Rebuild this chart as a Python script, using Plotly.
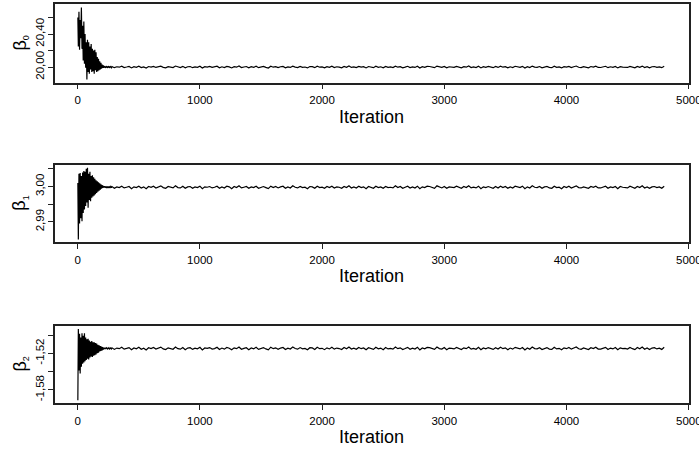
import plotly.graph_objects as go

# ---------------- data ----------------
iter_early = [1] + list(range(5, 280, 5))          # 56 points
iter_flat = list(range(280, 4801, 20))             # 227 points
iterations = iter_early + iter_flat

beta0_early = [20.60, 20.25, 20.67, 20.21, 20.57, 20.35, 20.72, 20.22, 20.50, 20.08,
               20.55, 20.04, 20.40, 19.99, 20.30, 19.85, 20.33, 19.94, 20.30, 19.92,
               20.25, 19.97, 20.28, 19.94, 20.22, 19.95, 20.20, 19.92, 20.21, 19.96,
               20.18, 19.94, 20.12, 19.95, 20.10, 19.96, 20.07, 19.97, 20.05, 19.98,
               20.03, 19.99, 20.02, 19.99, 20.01, 20.00, 19.99, 20.01, 20.00, 19.99,
               20.01, 20.00, 19.99, 20.01, 20.00, 19.99]
beta0_flat = [
    20.005, 19.992, 20.003, 19.998, 20.010, 19.994, 20.000, 20.007, 19.989, 20.004,
    19.997, 20.009, 19.993, 20.002, 19.988, 20.006, 19.999, 20.008, 19.995, 20.003,
    20.011, 19.996, 19.991, 20.005, 20.001, 19.993, 20.012, 19.998, 19.994, 20.008,
    19.990, 20.003, 20.006, 19.992, 20.002, 19.997, 20.009, 19.988, 20.004, 20.000,
    20.007, 19.995, 19.999, 20.010, 19.991, 20.003, 19.994, 20.008, 20.002, 19.989,
    20.005, 19.998, 20.012, 19.993, 20.000, 20.006, 19.990, 20.004, 19.997, 20.009,
    19.992, 20.001, 20.007, 19.996, 19.988, 20.010, 19.998, 20.005, 19.993, 20.003,
    20.008, 19.991, 20.002, 19.995, 20.011, 19.999, 19.994, 20.007, 19.997, 20.000,
    19.989, 20.006, 20.004, 19.992, 20.009, 19.998, 20.001, 19.990, 20.005, 19.996,
    20.010, 19.994, 20.003, 19.999, 19.991, 20.007, 19.997, 20.012, 19.995, 20.002,
    19.993, 20.008, 19.998, 20.004, 19.989, 20.006, 20.000, 19.992, 20.009, 19.997,
    20.003, 19.990, 20.007, 19.996, 20.001, 19.994, 20.011, 19.998, 20.005, 19.991,
    19.999, 20.009, 19.993, 20.002, 19.995, 20.010, 19.988, 20.004, 19.997, 20.008,
    20.006, 19.997, 19.992, 20.011, 19.999, 19.995, 20.007, 19.990, 20.003, 20.000,
    19.996, 20.008, 20.002, 19.991, 20.005, 19.998, 20.012, 19.994, 20.001, 19.993,
    20.009, 19.989, 20.004, 19.997, 20.007, 19.999, 19.992, 20.006, 19.995, 20.010,
    19.998, 20.005, 19.990, 20.003, 19.994, 20.009, 20.000, 19.996, 20.008, 19.988,
    20.004, 19.993, 20.011, 19.999, 19.997, 20.006, 19.991, 20.002, 20.007, 19.995,
    19.992, 20.010, 19.996, 20.001, 19.989, 20.005, 19.998, 20.008, 19.994, 20.003,
    20.012, 19.997, 19.993, 20.004, 20.000, 19.991, 20.006, 19.999, 20.010, 19.995,
    19.994, 20.002, 20.009, 19.992, 20.003, 19.996, 20.007, 19.989, 20.005, 19.999,
    20.001, 19.995, 20.008, 19.998, 19.990, 20.007, 19.997, 20.011, 19.993, 20.004,
    19.991, 20.003, 20.006, 19.996, 20.002, 19.992, 20.010]

beta1_early = [3.0010, 2.9850, 3.0036, 2.9895, 3.0038, 2.9910, 3.0030, 2.9902, 3.0040, 2.9925,
               3.0044, 2.9935, 3.0042, 2.9945, 3.0050, 2.9955, 3.0053, 2.9940, 3.0036, 2.9962,
               3.0042, 2.9958, 3.0030, 2.9968, 3.0032, 2.9972, 3.0026, 2.9975, 3.0022, 2.9978,
               3.0018, 2.9982, 3.0015, 2.9985, 3.0012, 2.9988, 3.0009, 2.9991, 3.0006, 2.9994,
               3.0004, 2.9996, 3.0002, 2.9997, 3.0001, 2.9997, 3.0000, 2.9996, 2.9999, 2.9997,
               3.0000, 2.9996, 2.9999, 2.9997, 3.0000, 2.9997]
beta1_flat = [
    3.0000, 2.9995, 2.9999, 2.9997, 3.0001, 2.9996, 2.9998, 3.0000, 2.9994, 2.9999,
    2.9997, 3.0001, 2.9996, 2.9999, 2.9994, 3.0000, 2.9998, 3.0001, 2.9996, 2.9999,
    3.0002, 2.9997, 2.9995, 3.0000, 2.9998, 2.9996, 3.0002, 2.9997, 2.9996, 3.0001,
    2.9995, 2.9999, 3.0000, 2.9995, 2.9999, 2.9997, 3.0001, 2.9994, 2.9999, 2.9998,
    3.0000, 2.9996, 2.9998, 3.0001, 2.9995, 2.9999, 2.9996, 3.0001, 2.9999, 2.9994,
    3.0000, 2.9997, 3.0002, 2.9996, 2.9998, 3.0000, 2.9995, 2.9999, 2.9997, 3.0001,
    2.9995, 2.9998, 3.0000, 2.9997, 2.9994, 3.0001, 2.9997, 3.0000, 2.9996, 2.9999,
    3.0001, 2.9995, 2.9999, 2.9996, 3.0002, 2.9998, 2.9996, 3.0000, 2.9997, 2.9998,
    2.9994, 3.0000, 2.9999, 2.9995, 3.0001, 2.9997, 2.9998, 2.9995, 3.0000, 2.9997,
    3.0001, 2.9996, 2.9999, 2.9998, 2.9995, 3.0000, 2.9997, 3.0002, 2.9996, 2.9999,
    2.9996, 3.0001, 2.9997, 2.9999, 2.9994, 3.0000, 2.9998, 2.9995, 3.0001, 2.9997,
    2.9999, 2.9995, 3.0000, 2.9997, 2.9998, 2.9996, 3.0002, 2.9997, 3.0000, 2.9995,
    2.9998, 3.0001, 2.9996, 2.9999, 2.9996, 3.0001, 2.9994, 2.9999, 2.9997, 3.0001,
    3.0000, 2.9997, 2.9995, 3.0002, 2.9998, 2.9996, 3.0000, 2.9995, 2.9999, 2.9998,
    2.9997, 3.0001, 2.9999, 2.9995, 3.0000, 2.9997, 3.0002, 2.9996, 2.9998, 2.9996,
    3.0001, 2.9994, 2.9999, 2.9997, 3.0000, 2.9998, 2.9995, 3.0000, 2.9996, 3.0001,
    2.9997, 3.0000, 2.9995, 2.9999, 2.9996, 3.0001, 2.9998, 2.9997, 3.0001, 2.9994,
    2.9999, 2.9996, 3.0002, 2.9998, 2.9997, 3.0000, 2.9995, 2.9999, 3.0000, 2.9996,
    2.9995, 3.0001, 2.9997, 2.9998, 2.9994, 3.0000, 2.9997, 3.0001, 2.9996, 2.9999,
    3.0002, 2.9997, 2.9996, 2.9999, 2.9998, 2.9995, 3.0000, 2.9998, 3.0001, 2.9996,
    2.9996, 2.9999, 3.0001, 2.9995, 2.9999, 2.9997, 3.0000, 2.9994, 3.0000, 2.9998,
    2.9998, 2.9996, 3.0001, 2.9997, 2.9995, 3.0000, 2.9997, 3.0002, 2.9996, 2.9999,
    2.9995, 2.9999, 3.0000, 2.9997, 2.9999, 2.9995, 3.0001]

beta2_early = [-1.597, -1.480, -1.548, -1.488, -1.553, -1.494, -1.542, -1.487, -1.537, -1.491,
               -1.535, -1.487, -1.533, -1.494, -1.531, -1.497, -1.529, -1.496, -1.530, -1.499,
               -1.527, -1.501, -1.525, -1.500, -1.526, -1.502, -1.524, -1.502, -1.523, -1.503,
               -1.522, -1.504, -1.520, -1.506, -1.519, -1.507, -1.517, -1.508, -1.516, -1.509,
               -1.515, -1.510, -1.514, -1.511, -1.513, -1.511, -1.513, -1.511, -1.512, -1.513,
               -1.511, -1.512, -1.513, -1.511, -1.512, -1.513]
beta2_flat = [
    -1.5110, -1.5136, -1.5114, -1.5124, -1.5100, -1.5132, -1.5120, -1.5106, -1.5142, -1.5112,
    -1.5126, -1.5102, -1.5134, -1.5116, -1.5144, -1.5108, -1.5122, -1.5104, -1.5130, -1.5114,
    -1.5098, -1.5128, -1.5138, -1.5110, -1.5118, -1.5134, -1.5096, -1.5124, -1.5132, -1.5104,
    -1.5140, -1.5114, -1.5108, -1.5136, -1.5116, -1.5126, -1.5102, -1.5144, -1.5112, -1.5120,
    -1.5106, -1.5130, -1.5122, -1.5100, -1.5138, -1.5114, -1.5132, -1.5104, -1.5116, -1.5142,
    -1.5110, -1.5124, -1.5096, -1.5134, -1.5120, -1.5108, -1.5140, -1.5112, -1.5126, -1.5102,
    -1.5136, -1.5118, -1.5106, -1.5128, -1.5144, -1.5100, -1.5124, -1.5110, -1.5134, -1.5114,
    -1.5104, -1.5138, -1.5116, -1.5130, -1.5098, -1.5122, -1.5132, -1.5106, -1.5126, -1.5120,
    -1.5142, -1.5108, -1.5112, -1.5136, -1.5102, -1.5124, -1.5118, -1.5140, -1.5110, -1.5128,
    -1.5100, -1.5132, -1.5114, -1.5122, -1.5138, -1.5106, -1.5126, -1.5096, -1.5130, -1.5116,
    -1.5134, -1.5104, -1.5124, -1.5112, -1.5142, -1.5108, -1.5120, -1.5136, -1.5102, -1.5126,
    -1.5114, -1.5140, -1.5106, -1.5128, -1.5118, -1.5132, -1.5098, -1.5124, -1.5110, -1.5138,
    -1.5122, -1.5102, -1.5134, -1.5116, -1.5130, -1.5100, -1.5144, -1.5112, -1.5126, -1.5104,
    -1.5108, -1.5126, -1.5136, -1.5098, -1.5122, -1.5130, -1.5106, -1.5140, -1.5114, -1.5120,
    -1.5128, -1.5104, -1.5116, -1.5138, -1.5110, -1.5124, -1.5096, -1.5132, -1.5118, -1.5134,
    -1.5102, -1.5142, -1.5112, -1.5126, -1.5106, -1.5122, -1.5136, -1.5108, -1.5130, -1.5100,
    -1.5124, -1.5110, -1.5140, -1.5114, -1.5132, -1.5102, -1.5120, -1.5128, -1.5104, -1.5144,
    -1.5112, -1.5134, -1.5098, -1.5122, -1.5126, -1.5108, -1.5138, -1.5116, -1.5106, -1.5130,
    -1.5136, -1.5100, -1.5128, -1.5118, -1.5142, -1.5110, -1.5124, -1.5104, -1.5132, -1.5114,
    -1.5096, -1.5126, -1.5134, -1.5112, -1.5120, -1.5138, -1.5108, -1.5122, -1.5100, -1.5130,
    -1.5132, -1.5116, -1.5102, -1.5136, -1.5114, -1.5128, -1.5106, -1.5142, -1.5110, -1.5122,
    -1.5118, -1.5130, -1.5104, -1.5124, -1.5140, -1.5106, -1.5126, -1.5098, -1.5134, -1.5112,
    -1.5138, -1.5114, -1.5108, -1.5128, -1.5116, -1.5136, -1.5100]

x_ticks = [0, 1000, 2000, 3000, 4000, 5000]
x_ticktext = ["0", "1000", "2000", "3000", "4000", "5000"]
x_last_label = "5000"

y_label_ticks = [[20.0, 20.4], [2.99, 3.00], [-1.58, -1.52]]
y_label_text = [["20,00", "20,40"], ["2,99", "3,00"], ["-1,58", "-1,52"]]
y_minor_ticks = [[20.2, 20.6], [2.995, 3.005], [-1.55, -1.49]]
y_ranges = [[19.81, 20.76], [2.9842, 3.0061], [-1.602, -1.4747]]
y_labels = ["β<sub><span style='font-size:9px'>0</span></sub>",
            "β<sub><span style='font-size:9px'>1</span></sub>",
            "β<sub><span style='font-size:9px'>2</span></sub>"]
x_title = "Iteration"

series = [beta0_early + beta0_flat, beta1_early + beta1_flat, beta2_early + beta2_flat]

# ---------------- layout ----------------
W, H = 699, 450
FONT = "Liberation Sans, Arial, Helvetica, sans-serif"
box_l, box_r = 55, 688.7
boxes_px = [(4.3, 82.7), (165.0, 242.3), (325.7, 403.3)]   # (top, bottom) in px
xdom = [box_l / W, box_r / W]
AX = "#222222"

fig = go.Figure()
layout = dict(
    width=W, height=H, margin=dict(l=0, r=0, t=0, b=0),
    paper_bgcolor="white", plot_bgcolor="white", showlegend=False,
    font=dict(family=FONT, color="black"),
)
annotations = []
for i, (ys, (top, bot)) in enumerate(zip(series, boxes_px)):
    n = "" if i == 0 else str(i + 1)
    fig.add_trace(go.Scatter(
        x=iterations, y=ys, mode="lines",
        line=dict(color="black", width=1.2),
        xaxis="x" + n, yaxis="y" + n, hoverinfo="skip"))
    ydom = [1 - bot / H, 1 - top / H]
    layout["xaxis" + n] = dict(
        domain=xdom, anchor="y" + n, range=[-186, 5000.5],
        tickvals=x_ticks, ticktext=x_ticktext, ticks="outside", ticklen=5,
        tickwidth=1, tickcolor=AX, ticklabelstandoff=1,
        showline=True, mirror=True, linecolor=AX, linewidth=1.5,
        showgrid=False, zeroline=False,
        tickfont=dict(family=FONT, size=11.5, color="black"))
    layout["yaxis" + n] = dict(
        domain=ydom, anchor="x" + n, range=y_ranges[i],
        tickvals=y_label_ticks[i], ticktext=y_label_text[i], ticks="outside", ticklen=5,
        tickwidth=1, tickcolor=AX, tickangle=-90,
        minor=dict(tickvals=y_minor_ticks[i], ticks="outside", ticklen=5,
                   tickwidth=1, tickcolor=AX, showgrid=False),
        showline=True, mirror=True, linecolor=AX, linewidth=1.5,
        showgrid=False, zeroline=False,
        tickfont=dict(family=FONT, size=11.5, color="black"))
    # the last tick label runs past the right edge, as in the reference
    annotations.append(dict(
        text=x_last_label, x=5000, xref="x" + n, y=1 - (bot + 17.5) / H, yref="paper",
        xanchor="center", yanchor="middle", showarrow=False,
        font=dict(family=FONT, size=11.5, color="black")))
    annotations.append(dict(
        text=x_title, x=(xdom[0] + xdom[1]) / 2, y=1 - (bot + 34) / H,
        xref="paper", yref="paper", xanchor="center", yanchor="middle",
        showarrow=False, font=dict(family=FONT, size=18, color="black")))
    annotations.append(dict(
        text=y_labels[i], x=20 / W, y=1 - ((top + bot) / 2) / H,
        xref="paper", yref="paper", xanchor="center", yanchor="middle",
        textangle=-90, showarrow=False,
        font=dict(family=FONT, size=18, color="black")))
layout["annotations"] = annotations
fig.update_layout(**layout)

post = (
    "document.documentElement.style.overflow='hidden';"
    "document.body.style.margin='0';document.body.style.overflow='hidden';"
)
fig.write_html("out.html", config={"displayModeBar": False}, post_script=post)
